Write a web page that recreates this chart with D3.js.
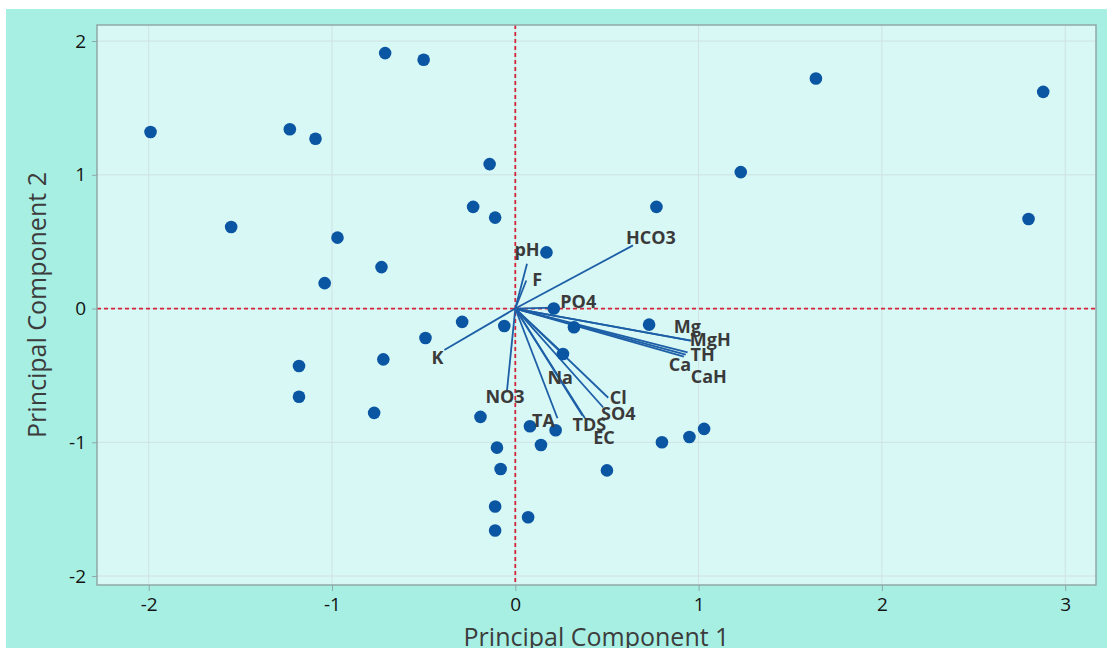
<!DOCTYPE html>
<html>
<head>
<meta charset="utf-8">
<script src="https://cdn.jsdelivr.net/npm/d3@7"></script>
<style>
  html, body { margin: 0; padding: 0; background: #ffffff; }
  svg { display: block; }
  text { font-family: "Open Sans", "Noto Sans", sans-serif; }
</style>
</head>
<body>
<svg id="chart" width="1107" height="648"></svg>
<script>
// PCA biplot: sample scores on PC1/PC2 plus variable loadings

// Sample scores
const pc1Scores = [-1.99, -0.71, -0.50, -1.23, -1.09, -1.55, -0.97, -0.73, -1.04, -0.14,
                   -0.23, -0.11, 0.17, 0.77, 1.23, 1.64, 2.88, 2.80, 0.21, 0.32,
                   0.73, -0.29, -0.06, -0.49, -1.18, -0.72, -1.18, -0.77, 0.26, -0.19,
                   0.08, 0.22, -0.10, 0.14, -0.08, 0.50, 0.80, 0.95, 1.03, -0.11,
                   0.07, -0.11];
const pc2Scores = [1.32, 1.91, 1.86, 1.34, 1.27, 0.61, 0.53, 0.31, 0.19, 1.08,
                   0.76, 0.68, 0.42, 0.76, 1.02, 1.72, 1.62, 0.67, 0.00, -0.14,
                   -0.12, -0.10, -0.13, -0.22, -0.43, -0.38, -0.66, -0.78, -0.34, -0.81,
                   -0.88, -0.91, -1.04, -1.02, -1.20, -1.21, -1.00, -0.96, -0.90, -1.48,
                   -1.56, -1.66];

// Variable loadings
const variables = ["pH", "F", "K", "NO3", "HCO3", "PO4", "Mg", "MgH", "TH", "Ca", "CaH",
                   "Na", "Cl", "SO4", "TDS", "EC", "TA"];
const loading1 = [0.064, 0.060, -0.387, -0.045, 0.642, 0.207, 0.955, 0.960, 0.940, 0.920, 0.930,
                  0.256, 0.507, 0.480, 0.366, 0.380, 0.230];
const loading2 = [0.335, 0.210, -0.310, -0.610, 0.472, 0.007, -0.240, -0.240, -0.328, -0.360, -0.345,
                  -0.330, -0.667, -0.740, -0.800, -0.820, -0.820];

// Label offsets (px) from each loading tip
const labelDx = [0, 11, -7, -2, 18, 25, -3, 19, 15, -4, 23, -2, 10, 15, 7, 19, -14];
const labelDy = [-15, -1, 7, 6, -8, -7, -15, -2, 2, 7, 21, 24, -1, 5, 8, 19, 2];

// Axis ticks
const xTicks = [-2, -1, 0, 1, 2, 3];
const yTicks = [-2, -1, 0, 1, 2];

const svg = d3.select("#chart");
const W = 1107, H = 648;

// Outer background
svg.append("rect").attr("x", 6).attr("y", 9).attr("width", W - 6).attr("height", H - 9)
  .attr("fill", "#a8efe3");

const panel = { left: 97, top: 25, right: 1096, bottom: 585 };

const x = d3.scaleLinear().domain([-2.282, 3.168]).range([panel.left, panel.right]);
const y = d3.scaleLinear().domain([-2.067, 2.12]).range([panel.bottom, panel.top]);

// Panel background
svg.append("rect")
  .attr("x", panel.left).attr("y", panel.top)
  .attr("width", panel.right - panel.left).attr("height", panel.bottom - panel.top)
  .attr("fill", "#d8f8f6");

// Grid lines
const grid = svg.append("g");
grid.selectAll("line.gx").data(xTicks).join("line")
  .attr("x1", d => x(d)).attr("x2", d => x(d))
  .attr("y1", panel.top).attr("y2", panel.bottom)
  .attr("stroke", "#cfe2e2").attr("stroke-width", 1);
grid.selectAll("line.gy").data(yTicks).join("line")
  .attr("x1", panel.left).attr("x2", panel.right)
  .attr("y1", d => y(d)).attr("y2", d => y(d))
  .attr("stroke", "#cfe2e2").attr("stroke-width", 1);

// Axes
const fmt = d => String(d);
const xAxis = svg.append("g").attr("transform", `translate(0,${panel.bottom})`)
  .call(d3.axisBottom(x).tickValues(xTicks).tickFormat(fmt).tickSize(6).tickSizeOuter(0).tickPadding(7));
const yAxis = svg.append("g").attr("transform", `translate(${panel.left},0)`)
  .call(d3.axisLeft(y).tickValues(yTicks).tickFormat(fmt).tickSize(5).tickSizeOuter(0).tickPadding(6));
[xAxis, yAxis].forEach(a => {
  a.select(".domain").remove();
  a.selectAll(".tick line").attr("stroke", "#8fa8a6");
  a.selectAll(".tick text")
    .attr("font-family", "'Open Sans', 'Noto Sans', sans-serif")
    .attr("font-size", 19).attr("font-weight", 500).attr("fill", "#141414");
});

// Zero reference lines
svg.append("line")
  .attr("x1", panel.left).attr("x2", panel.right)
  .attr("y1", y(0)).attr("y2", y(0))
  .attr("stroke", "#d3263a").attr("stroke-width", 1.8).attr("stroke-dasharray", "4,3");
svg.append("line")
  .attr("x1", x(0)).attr("x2", x(0))
  .attr("y1", panel.top).attr("y2", panel.bottom)
  .attr("stroke", "#d3263a").attr("stroke-width", 1.8).attr("stroke-dasharray", "4,3");

// Loading vectors
const loads = variables.map((v, i) => ({ v, a: loading1[i], b: loading2[i], dx: labelDx[i], dy: labelDy[i] }));
svg.append("g").selectAll("line").data(loads).join("line")
  .attr("x1", x(0)).attr("y1", y(0))
  .attr("x2", d => x(d.a)).attr("y2", d => y(d.b))
  .attr("stroke", "#1d5fa6").attr("stroke-width", 1.8);

// Sample points
const scores = pc1Scores.map((s, i) => ({ s, t: pc2Scores[i] }));
svg.append("g").selectAll("circle").data(scores).join("circle")
  .attr("cx", d => x(d.s)).attr("cy", d => y(d.t)).attr("r", 6.3)
  .attr("fill", "#0b56a3");

// Variable labels
svg.append("g").selectAll("text").data(loads).join("text")
  .attr("x", d => x(d.a) + d.dx).attr("y", d => y(d.b) + d.dy)
  .attr("text-anchor", "middle").attr("dominant-baseline", "central")
  .attr("font-size", 18).attr("font-weight", 700).attr("fill", "#3a3a3a")
  .text(d => d.v);

// Panel border
svg.append("rect")
  .attr("x", panel.left).attr("y", panel.top)
  .attr("width", panel.right - panel.left).attr("height", panel.bottom - panel.top)
  .attr("fill", "none").attr("stroke", "#8fa8a6").attr("stroke-width", 1.5);

// Axis titles
svg.append("text")
  .attr("x", (panel.left + panel.right) / 2).attr("y", 646)
  .attr("text-anchor", "middle")
  .attr("font-size", 25).attr("font-weight", 500).attr("fill", "#3c3c3c")
  .text("Principal Component 1");
svg.append("text")
  .attr("transform", `translate(46,${(panel.top + panel.bottom) / 2}) rotate(-90)`)
  .attr("text-anchor", "middle")
  .attr("font-size", 25).attr("font-weight", 500).attr("fill", "#3c3c3c")
  .text("Principal Component 2");
</script>
</body>
</html>
